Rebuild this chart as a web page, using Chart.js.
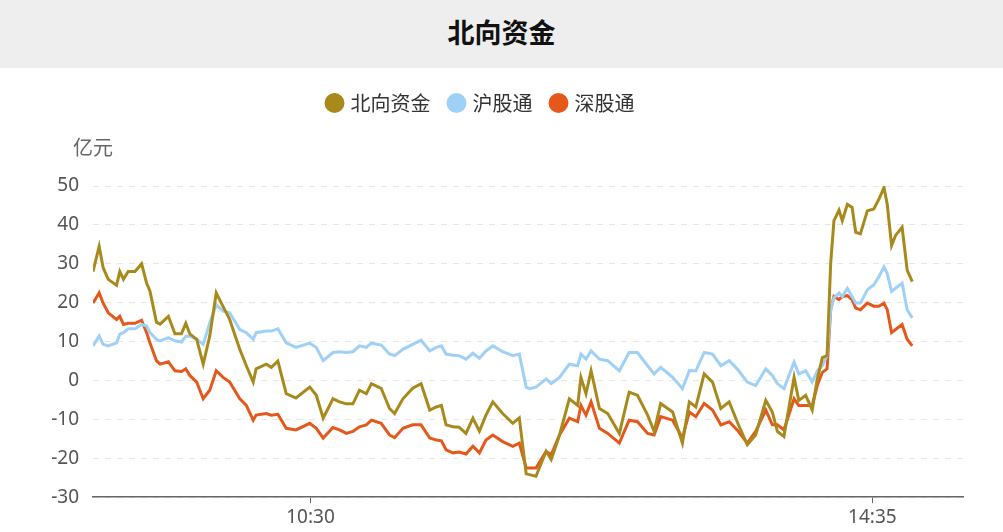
<!DOCTYPE html>
<html><head><meta charset="utf-8">
<script src="https://cdn.jsdelivr.net/npm/chart.js@4"></script>
<style>
html,body{margin:0;padding:0;background:#fff;font-family:"Noto Sans CJK SC","Noto Sans",sans-serif;}
#t{height:68px;background:#eeeeee;text-align:center;line-height:64px;font-size:27px;font-weight:bold;color:#111;}
#w{position:relative;width:1003px;height:464px;}
</style></head><body>
<div id="t">北向资金</div>
<div id="w"><canvas id="c"></canvas></div>
<script>
const seriesNames = ["北向资金","沪股通","深股通"];
const tickPositions = [60, 215];
const tickLabels = ["10:30","14:35"];
const xIdx = [0,1.7,2.8,4.2,6.5,7.4,8.4,9.7,11.6,13.4,14.8,15.7,17.5,18.5,20.8,22.6,24.4,25.6,26.7,28.6,30.4,32.2,34,35.9,37.7,40.5,42.3,44.2,45,47.8,49.2,51,53.3,56,59.8,61.6,63.5,66.2,68,69.9,71.7,73.5,75.4,76.8,79.5,81.8,83.2,85.5,88.2,90.5,92.9,94.7,96.1,97.4,99.3,101,102.9,104.8,106.6,108.4,110.3,113,115.8,117.6,119.5,
120.4,122.2,125,126.4,128.7,131.4,133.7,134.6,136,137.4,139.7,142,145.2,147.9,150.2,153,154.8,156.6,159.9,162.6,164.5,166.3,168.6,170.9,173.2,175.5,177.7,180.5,182.8,185.6,187.4,188.8,190.6,193.4,194.7,196.6,198.4,199.8,201.2,202.5,203.5,204.4,205.8,206.7,208.1,209.4,210.4,211.7,213.6,215.4,216.8,218.2,219.1,220.3,221.4,223.2,224.6,226];
const northbound = [28,34.5,29,26,24.5,28,26,28,28,30,25,23,15,14.5,16.5,12,12,14.7,12,10.6,4.2,11.4,22.5,19,15.7,8,3.8,-0.4,3,4.2,3.4,5,-3.4,-4.5,-1.7,-3.8,-9.7,-4.7,-5.5,-6,-6,-2.5,-3.4,-0.8,-2,-7.2,-8.5,-4.7,-2,-0.8,-7.6,-6.8,-6.4,-11.4,-11.9,-12,-13.6,-9.7,-13,-8.9,-5.5,-8.5,-11,-9.6,-24,
-24.2,-24.6,-18.2,-20.3,-14,-4.7,-6.4,0.8,-3.4,2.5,-7.2,-8.5,-13.6,-3,-3.8,-8.9,-13.1,-5.9,-8.1,-16.1,-5.5,-6.8,1.7,-0.4,-7.2,-5.5,-10.6,-16.5,-14,-5.1,-8.1,-13.1,-14.4,0.8,-5.1,-3.8,-7.6,0.4,5.9,6.4,30.1,41.1,43.8,41.1,45.3,44.5,38.1,37.7,43.6,44.1,46.6,49.6,45.3,34.7,37.3,39.4,28.4,25.4];
const shanghai = [8.9,11.4,9.3,8.9,9.7,11.9,12.3,13.3,13.3,14.4,14,12.3,10.6,10.2,11,10.2,9.9,11.4,11.4,10.6,9.3,14.8,19.5,17.8,17.4,13.1,12.3,10.6,12.3,12.7,12.7,13.3,9.7,8.5,9.6,8.5,5.1,7.2,7.4,7.2,7.4,8.9,8.5,9.6,9.1,6.8,6.4,8,9.3,10.4,7.6,8.5,8.9,6.8,6.5,6.4,5.5,7,5.7,7.6,8.9,7.4,6.4,6.8,-1.7,
-2.1,-1.7,0.4,-0.8,0.8,4.2,3.8,6.8,5.5,7.6,5.5,5.1,2.5,7.2,7.2,3.8,1.7,3.4,0.8,-2.1,2.5,2.5,7.2,6.8,3.8,5.1,3,-0.4,-1.3,3,1.3,-0.8,-2.1,4.7,1.7,2.5,-0.4,2.5,3.8,6.4,18.2,21.2,22.5,21.6,23.7,21.6,19.9,19.9,23.3,24.6,26.7,29.2,27.5,22.9,23.7,25,18.2,16.1];
const shenzhen = [19.9,22.5,19.9,17.4,15.7,16.5,14.4,14.7,14.7,15.5,12.3,9.7,5.1,4.2,4.8,2.5,2.3,3,1.3,-0.4,-4.7,-2.5,2.5,0.8,-0.4,-4.7,-6.4,-10.2,-8.9,-8.5,-8.9,-8.7,-12.3,-12.7,-11,-12.3,-14.8,-12.1,-12.7,-13.6,-13.1,-11.9,-11.4,-10.2,-11,-14,-14.7,-12.3,-11.4,-11.4,-14.8,-15.3,-15.5,-17.8,-18.6,-18.4,-18.9,-16.9,-18.6,-15.3,-14,-15.7,-16.9,-16.1,-22.5,
-22.5,-22.5,-18.2,-19.1,-14,-9.7,-10.6,-6.4,-8.9,-5.5,-12.3,-13.6,-16.1,-10.2,-10.6,-13.6,-14,-9.3,-10.2,-14.8,-8.1,-9.3,-5.9,-7.6,-11.4,-10.6,-12.7,-16.1,-13.1,-7.6,-11.4,-11.4,-12.7,-4.7,-6.4,-6.4,-6.4,-1.3,2.1,3,18.2,21.6,20.8,21.6,21.8,20.8,18.6,18.2,19.9,19.1,19.1,19.9,18.2,12.3,13.1,14.4,10.6,8.9];
const colors = ["#a88a1c","#9fd0f5","#e5581b"];

const pts = arr => arr.map((v,i)=>({x:xIdx[i], y:v}));
const unitPlugin = {id:'unit', afterDraw(ch){const c=ch.ctx; const a=ch.chartArea; c.save(); c.fillStyle='#666'; c.font='20px "Noto Sans CJK SC"'; c.textAlign='center'; c.textBaseline='middle'; c.fillText('亿元', 93, a.top-39); c.restore();}};
const legendGap = {id:'legendGap', beforeInit(ch){const f=ch.legend.fit; ch.legend.fit=function(){f.bind(ch.legend)(); this.height+=63;};}};
new Chart(document.getElementById('c'), {
  type:'line',
  data:{datasets:[northbound,shanghai,shenzhen].map((d,i)=>({label:seriesNames[i],data:pts(d),borderColor:colors[i],backgroundColor:colors[i],borderWidth:3,pointRadius:0,tension:0}))},
  options:{responsive:true,maintainAspectRatio:false,animation:false,
    layout:{padding:{top:5,right:40,left:0,bottom:0}},
    plugins:{legend:{labels:{usePointStyle:true,pointStyle:'circle',boxWidth:12,boxHeight:12,padding:20,color:'#333',font:{size:20,family:'"Noto Sans CJK SC"'}}},tooltip:{enabled:false}},
    scales:{
      x:{type:'linear',min:0,max:240,
        afterBuildTicks(s){s.ticks=tickPositions.map(v=>({value:v}));},
        ticks:{autoSkip:false,maxRotation:0,color:'#555',font:{size:19,family:'"Noto Sans"'},callback:(v)=>tickLabels[tickPositions.indexOf(v)]},
        grid:{drawOnChartArea:false,drawTicks:true,tickLength:6,color:'#666'},
        border:{color:'#666',width:1.5}},
      y:{min:-30,max:50,
        afterFit(s){s.width=93;},
        ticks:{stepSize:10,color:'#555',padding:14,font:{size:19,family:'"Noto Sans"'}},
        grid:{color:'#e6e6e6',drawTicks:false},
        border:{display:false,dash:[6,6]}}
    }
  },
  plugins:[unitPlugin, legendGap]
});
</script></body></html>
